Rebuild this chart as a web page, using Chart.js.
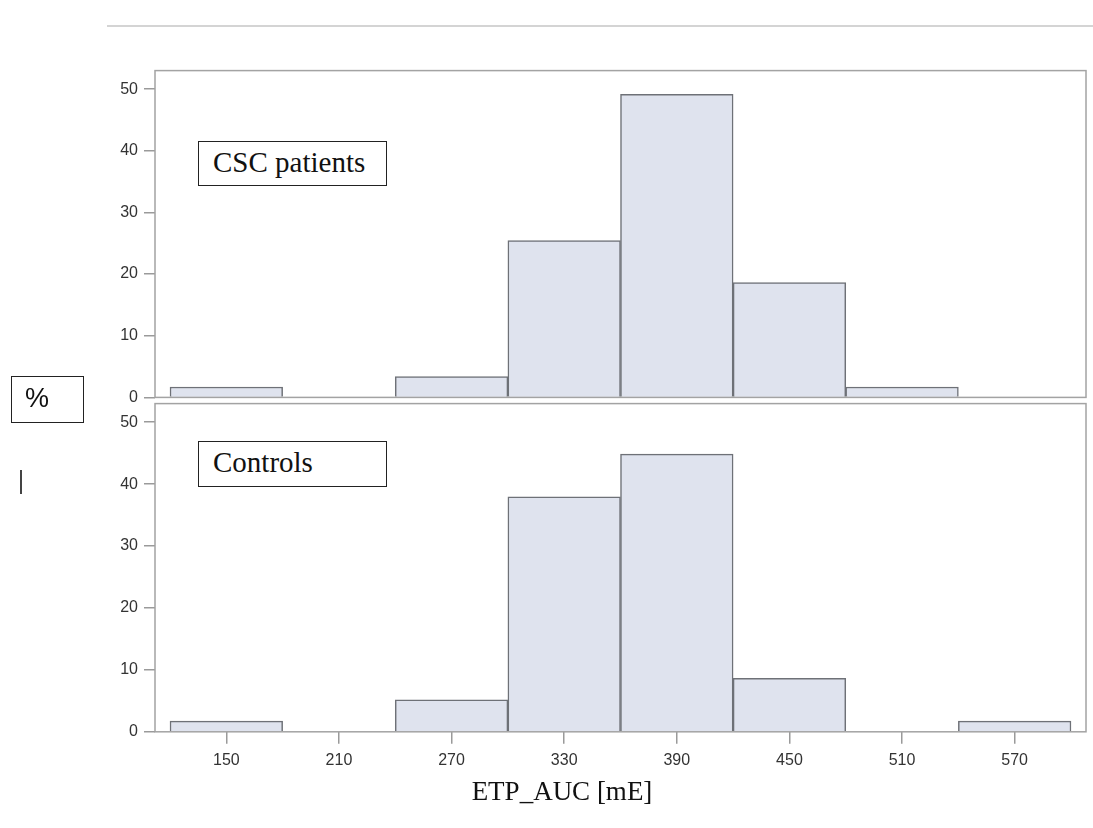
<!DOCTYPE html>
<html>
<head>
<meta charset="utf-8">
<script src="https://cdn.jsdelivr.net/npm/chart.js@4.4.0/dist/chart.umd.min.js"></script>
<style>
  body { margin: 0; width: 1093px; height: 828px; background: #fff; position: relative; overflow: hidden; }
  canvas { position: absolute; left: 0; }
  #topPanel { top: 55px; }
  #botPanel { top: 388px; }
  .rule { position: absolute; left: 107px; top: 25px; width: 986px; height: 0; border-top: 2px solid #d4d4d4; }
  .lbl { position: absolute; box-sizing: border-box; border: 1.5px solid #222; background: #fff;
         font-family: 'Liberation Serif', serif; font-size: 29px; color: #111; padding-left: 14px; line-height: 40px; }
  .pct { position: absolute; left: 11px; top: 376px; width: 73px; height: 47px; box-sizing: border-box;
         border: 1.5px solid #222; font-family: 'Liberation Sans', sans-serif; font-size: 27px; color: #111;
         padding-left: 13px; line-height: 42px; }
  .cursor { position: absolute; left: 20px; top: 470px; width: 1.5px; height: 24px; background: #444; }
  .xtitle { position: absolute; left: 362px; width: 400px; top: 776px; text-align: center;
            font-family: 'Liberation Serif', serif; font-size: 27px; color: #111; }
</style>
</head>
<body>
<div class="rule"></div>
<canvas id="topPanel" width="1093" height="358"></canvas>
<canvas id="botPanel" width="1093" height="399"></canvas>
<div class="lbl" style="left:198px;top:141px;width:189px;height:45px;">CSC patients</div>
<div class="lbl" style="left:198px;top:441px;width:189px;height:46px;">Controls</div>
<div class="pct">%</div>
<div class="cursor"></div>
<div class="xtitle">ETP_AUC [mE]</div>
<script>
// histogram bins of 60 mE, labelled by bin centre
const binCenters = [150, 210, 270, 330, 390, 450, 510, 570];
const xTickLabels = ['150', '210', '270', '330', '390', '450', '510', '570'];
const cscPercent = [1.69, null, 3.39, 25.42, 49.15, 18.64, 1.69, null];      // CSC patients
const controlPercent = [1.72, null, 5.17, 37.93, 44.83, 8.62, null, 1.72];  // Controls
const yTicks = [0, 10, 20, 30, 40, 50];

const barFill = '#dfe3ee';
const barLine = '#6e7177';
const frameColor = '#a3a3a3';

// draws the closed box around each panel
const framePlugin = {
  id: 'frame',
  afterDatasetsDraw(chart) {
    const a = chart.chartArea, c = chart.ctx;
    c.save();
    c.strokeStyle = frameColor;
    c.lineWidth = 1.5;
    c.strokeRect(a.left, a.top, a.right - a.left, a.bottom - a.top);
    c.restore();
  }
};

function makePanel(id, values, showX, pad) {
  const ctx = document.getElementById(id).getContext('2d');
  return new Chart(ctx, {
    type: 'bar',
    data: {
      datasets: [{
        data: binCenters.map((x, i) => ({ x: x, y: values[i] })),
        backgroundColor: barFill,
        borderColor: barLine,
        borderWidth: 1.5,
        borderSkipped: 'start',
        barPercentage: 1,
        categoryPercentage: 1
      }]
    },
    options: {
      responsive: false,
      animation: false,
      layout: { padding: pad },
      plugins: { legend: { display: false }, tooltip: { enabled: false } },
      scales: {
        x: {
          type: 'linear',
          min: 112,
          max: 608,
          offset: false,
          display: showX,
          afterBuildTicks: s => { s.ticks = binCenters.map(v => ({ value: v })); },
          grid: { drawOnChartArea: false, offset: false, tickLength: 12, color: '#9a9a9a', lineWidth: 1.5 },
          border: { display: false },
          ticks: {
            font: { family: 'Liberation Sans', size: 16 },
            color: '#333',
            padding: 7,
            maxRotation: 0,
            callback: (v, i) => xTickLabels[i]
          }
        },
        y: {
          min: 0,
          max: 53,
          afterBuildTicks: s => { s.ticks = yTicks.map(v => ({ value: v })); },
          afterFit: s => { s.width = 155; },
          grid: { drawOnChartArea: false, tickLength: 11, color: '#9a9a9a', lineWidth: 1.5 },
          border: { display: false },
          ticks: { font: { family: 'Liberation Sans', size: 16 }, color: '#333', padding: 6 }
        }
      }
    },
    plugins: [framePlugin]
  });
}

makePanel('topPanel', cscPercent, false, { top: 10, right: 7, bottom: 8, left: 0 });
makePanel('botPanel', controlPercent, true, { top: 8, right: 7, bottom: 10, left: 0 });
</script>
</body>
</html>
